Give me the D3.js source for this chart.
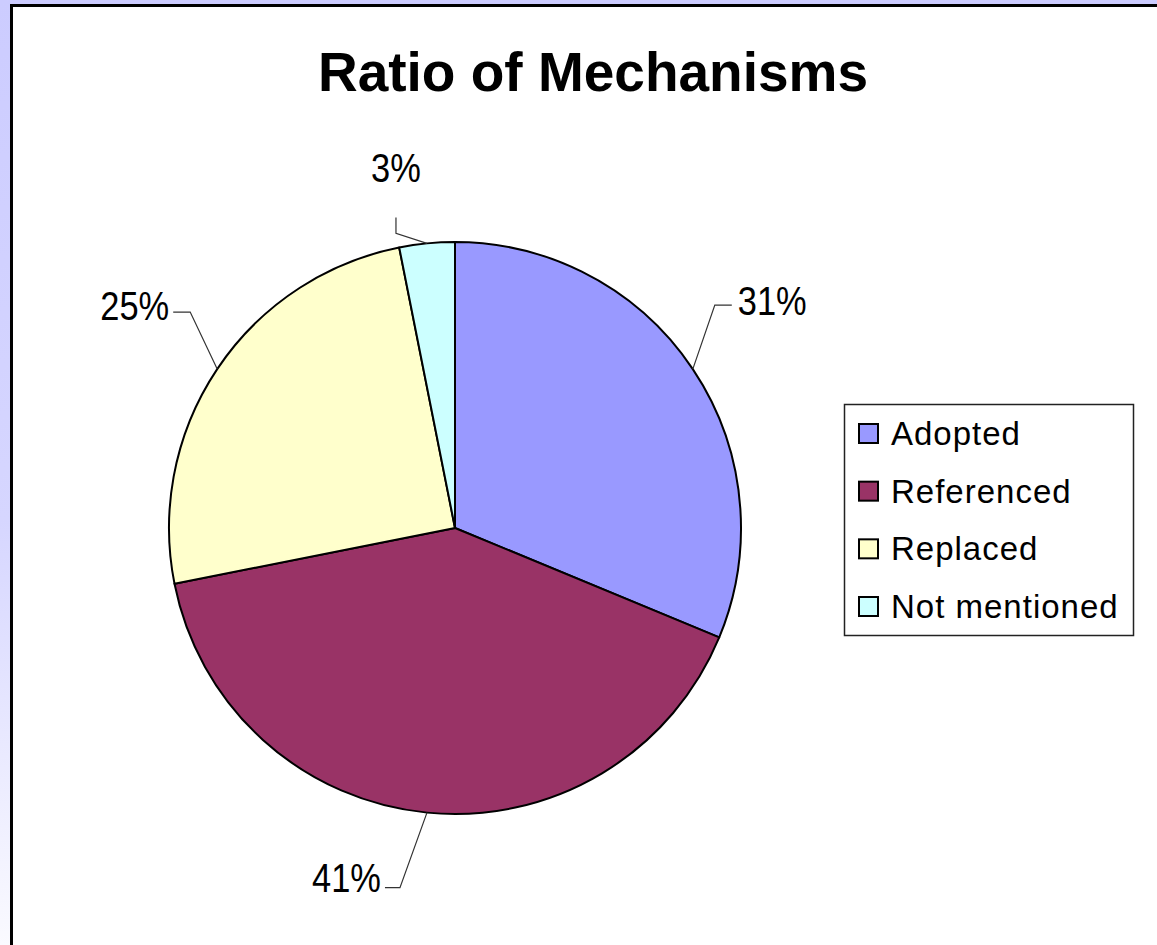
<!DOCTYPE html>
<html>
<head>
<meta charset="utf-8">
<script src="https://cdn.jsdelivr.net/npm/d3@7"></script>
<style>
  html, body { margin: 0; padding: 0; background: #fff; }
  svg { display: block; }
</style>
</head>
<body>
<svg id="chart" width="1157" height="945"></svg>
<script>
const categories = ["Adopted", "Referenced", "Replaced", "Not mentioned"];
const values = [10, 13, 8, 1];
const colors = ["#9999FF", "#993366", "#FFFFCC", "#CCFFFF"];
const title = "Ratio of Mechanisms";

// layout for the data-label leader lines (offsets from the arc anchor)
const labelLayout = [
  { elbow: [22, -64], end: [39, -64], text: [45, -54], anchor: "start" },
  { elbow: [-27, 75], end: [-42, 75], text: [-46, 79], anchor: "end" },
  { elbow: [-27, -57], end: [-44, -57], text: [-48, -49], anchor: "end" },
  { elbow: [-31, -10], end: [-31, -26], text: [-31, -61], anchor: "middle" }
];

const W = 1157, H = 945;
const svg = d3.select("#chart");

const defs = svg.append("defs");
const grad = defs.append("linearGradient").attr("id", "bg").attr("x1", 0).attr("y1", 0).attr("x2", 0).attr("y2", 1);
grad.append("stop").attr("offset", "0%").attr("stop-color", "#CCCCFF");
grad.append("stop").attr("offset", "55%").attr("stop-color", "#D6D6FF");
grad.append("stop").attr("offset", "100%").attr("stop-color", "#FAFAFF");

svg.append("rect").attr("width", W).attr("height", H).attr("fill", "url(#bg)");
// chart area with black frame (extends past right/bottom edges)
svg.append("rect").attr("x", 11.5).attr("y", 5.5).attr("width", W + 20).attr("height", H + 20)
  .attr("fill", "#fff").attr("stroke", "#000").attr("stroke-width", 3);

svg.append("text").attr("x", 593).attr("y", 91)
  .attr("text-anchor", "middle")
  .attr("font-family", "Liberation Sans, Arial, sans-serif")
  .attr("font-weight", "bold").attr("font-size", 55)
  .text(title);

const cx = 455, cy = 528, r = 286;
const total = d3.sum(values);
const pie = d3.pie().sort(null).value(d => d)(values);
const arc = d3.arc().innerRadius(0).outerRadius(r);

const g = svg.append("g").attr("transform", `translate(${cx},${cy})`);
g.selectAll("path.slice").data(pie).join("path")
  .attr("class", "slice")
  .attr("d", arc)
  .attr("fill", (d, i) => colors[i])
  .attr("stroke", "#000").attr("stroke-width", 2).attr("stroke-linejoin", "round");

const fmt = v => Math.round(v / total * 100) + "%";

pie.forEach((d, i) => {
  const mid = (d.startAngle + d.endAngle) / 2;
  const ax = r * Math.sin(mid), ay = -r * Math.cos(mid);
  const L = labelLayout[i];
  g.append("polyline")
    .attr("points", [[ax, ay], [ax + L.elbow[0], ay + L.elbow[1]], [ax + L.end[0], ay + L.end[1]]].map(p => p.join(",")).join(" "))
    .attr("fill", "none").attr("stroke", "#333").attr("stroke-width", 1.2);
  g.append("text")
    .attr("transform", `translate(${ax + L.text[0]},${ay + L.text[1]}) scale(0.84,1)`)
    .attr("text-anchor", L.anchor)
    .attr("font-family", "Liberation Sans, Arial, sans-serif")
    .attr("font-size", 41)
    .text(fmt(d.value));
});

// legend
const lg = svg.append("g");
lg.append("rect").attr("x", 844.5).attr("y", 404.5).attr("width", 289).attr("height", 231)
  .attr("fill", "#fff").attr("stroke", "#222").attr("stroke-width", 1.5);
const ly = d3.scalePoint().domain(categories).range([434, 607]);
categories.forEach((c, i) => {
  lg.append("rect").attr("x", 859).attr("y", ly(c) - 10).attr("width", 19).attr("height", 19)
    .attr("fill", colors[i]).attr("stroke", "#000").attr("stroke-width", 2);
  lg.append("text").attr("x", 891).attr("y", ly(c) + 11)
    .attr("font-family", "Liberation Sans, Arial, sans-serif")
    .attr("font-size", 33).attr("letter-spacing", 1.0)
    .text(c);
});
</script>
</body>
</html>
